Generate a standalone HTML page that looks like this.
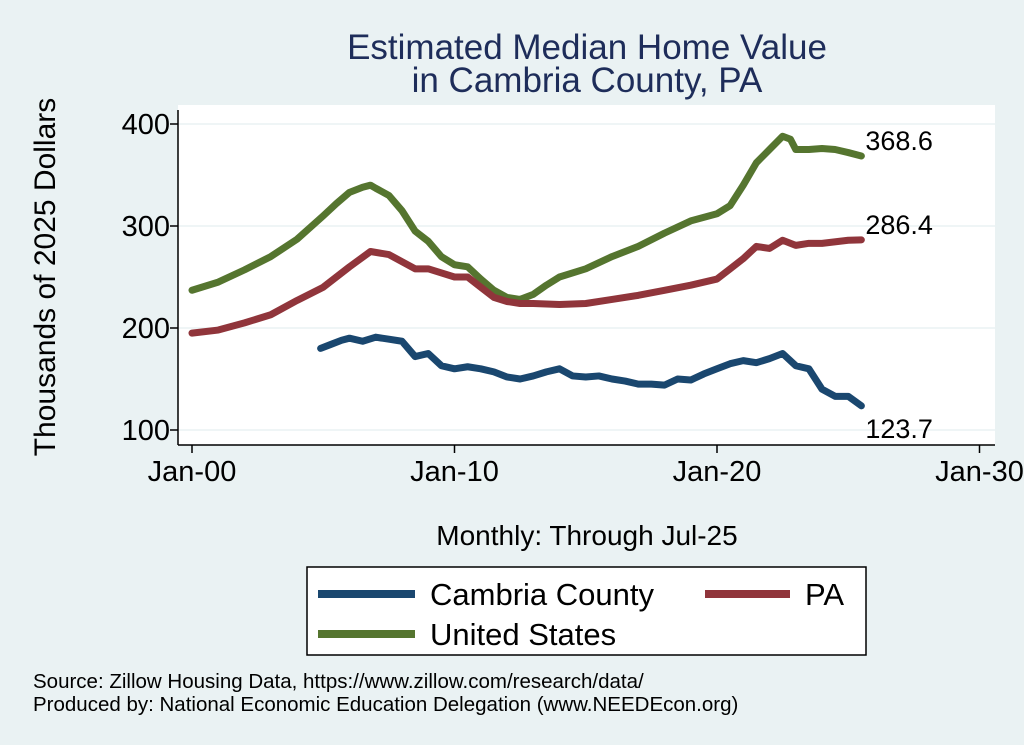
<!DOCTYPE html>
<html><head><meta charset="utf-8"><style>
body{margin:0;background:#eaf2f3;}
svg{display:block;font-family:"Liberation Sans",sans-serif;}
</style></head><body>
<svg id="chart" width="1024" height="745">
<rect x="0" y="0" width="1024" height="745" fill="#eaf2f3"/>
<rect x="178" y="105" width="817" height="340" fill="#ffffff"/>
<text x="587" y="59" text-anchor="middle" font-size="35" fill="#1e2d5a">Estimated Median Home Value</text>
<text x="587" y="92" text-anchor="middle" font-size="35" fill="#1e2d5a">in Cambria County, PA</text>
<text transform="translate(55,277) rotate(-90)" text-anchor="middle" font-size="30" fill="#000">Thousands of 2025 Dollars</text>
<text x="587" y="545" text-anchor="middle" font-size="28" fill="#000">Monthly: Through Jul-25</text>
<g id="grid"></g><g id="axes"></g><g id="series"></g>
<g>
<rect x="307" y="567" width="559" height="88" fill="#fff" stroke="#000" stroke-width="1.5"/>
<line x1="318" y1="594" x2="415" y2="594" stroke="#1a476f" stroke-width="8"/>
<text x="430" y="605" font-size="31">Cambria County</text>
<line x1="705" y1="594" x2="790" y2="594" stroke="#90353b" stroke-width="8"/>
<text x="805" y="605" font-size="31">PA</text>
<line x1="318" y1="634" x2="415" y2="634" stroke="#55752f" stroke-width="8"/>
<text x="430" y="645" font-size="31">United States</text>
</g>
<text x="33" y="688" font-size="20.5">Source: Zillow Housing Data, https://www.zillow.com/research/data/</text>
<text x="33" y="711" font-size="20.5">Produced by: National Economic Education Delegation (www.NEEDEcon.org)</text>
</svg>
<script>
const yTicks=[100,200,300,400];
const xTicks=[2000,2010,2020,2030];
const xTickLabels=["Jan-00","Jan-10","Jan-20","Jan-30"];
const usDates=[2000,2001,2002,2003,2004,2005,2005.5,2006,2006.5,2006.8,2007,2007.5,2008,2008.5,2009,2009.5,2010,2010.5,2011,2011.5,2012,2012.5,2013,2013.5,2014,2015,2016,2017,2018,2019,2020,2020.5,2021,2021.5,2022,2022.5,2022.8,2023,2023.5,2024,2024.5,2025,2025.5];
const usValues=[237,245,257,270,287,310,322,333,338,340,337,330,315,295,285,270,262,260,248,237,230,228,233,242,250,258,270,280,293,305,312,320,340,362,375,388,385,375,375,376,375,372,368.6];
const paDates=[2000,2001,2002,2003,2004,2005,2006,2006.8,2007.5,2008,2008.5,2009,2010,2010.5,2011,2011.5,2012,2012.5,2013,2014,2015,2016,2017,2018,2019,2020,2020.5,2021,2021.5,2022,2022.5,2023,2023.5,2024,2025,2025.5];
const paValues=[195,198,205,213,227,240,260,275,272,265,258,258,250,250,240,230,226,224,224,223,224,228,232,237,242,248,258,268,280,278,286,281,283,283,286,286.4];
const cbDates=[2004.9,2005.3,2005.7,2006,2006.5,2007,2007.5,2008,2008.5,2009,2009.5,2010,2010.5,2011,2011.5,2012,2012.5,2013,2013.5,2014,2014.5,2015,2015.5,2016,2016.5,2017,2017.5,2018,2018.5,2019,2019.5,2020,2020.5,2021,2021.5,2022,2022.5,2023,2023.5,2024,2024.5,2025,2025.5];
const cbValues=[180,184,188,190,187,191,189,187,172,175,163,160,162,160,157,152,150,153,157,160,153,152,153,150,148,145,145,144,150,149,155,160,165,168,166,170,175,163,160,140,133,133,123.7];
const NS="http://www.w3.org/2000/svg";
function X(d){return 192+(d-2000)*26.25;}
function Y(v){return 430-(v-100)*1.02;}
function mk(tag,attrs,parent){const e=document.createElementNS(NS,tag);for(const k in attrs)e.setAttribute(k,attrs[k]);parent.appendChild(e);return e;}
const grid=document.getElementById('grid'),axes=document.getElementById('axes'),ser=document.getElementById('series');
yTicks.forEach(v=>{
 const g=mk('line',{x1:178,x2:995,y1:Y(v),y2:Y(v),stroke:'#eaf2f3','stroke-width':1.5},grid);
 
 
 const t=mk('line',{x1:170,x2:178,y1:Y(v),y2:Y(v),stroke:'#000','stroke-width':1.5},axes);
 
 
 const l=mk('text',{x:170,y:Y(v)+10,'text-anchor':'end','font-size':29},axes);l.textContent=v;
 
 
});
xTicks.forEach((d,i)=>{
 const t=mk('line',{x1:X(d),x2:X(d),y1:445,y2:453,stroke:'#000','stroke-width':1.5},axes);
 
 
 const l=mk('text',{x:X(d),y:481,'text-anchor':'middle','font-size':29},axes);l.textContent=xTickLabels[i];
 
 
});
const ya=mk('line',{x1:178,x2:178,y1:110,y2:445,stroke:'#000','stroke-width':1.5},axes);


const xa=mk('line',{x1:178,x2:995,y1:445,y2:445,stroke:'#000','stroke-width':1.5},axes);


function draw(dates,vals,color,name,dy){
 const p=mk('polyline',{points:dates.map((d,i)=>X(d)+','+Y(vals[i])).join(' '),fill:'none',stroke:color,'stroke-width':7,'stroke-linejoin':'round','stroke-linecap':'round'},ser);
 
 
 const n=dates.length-1;
 const l=mk('text',{x:X(dates[n])+4,y:Y(vals[n])+dy,'font-size':27},ser);l.textContent=vals[n].toFixed(1);
 
 
}
draw(usDates,usValues,'#55752f','us',-6);
draw(paDates,paValues,'#90353b','pa',-6);
draw(cbDates,cbValues,'#1a476f','cambria',32);
</script>
</body></html>
